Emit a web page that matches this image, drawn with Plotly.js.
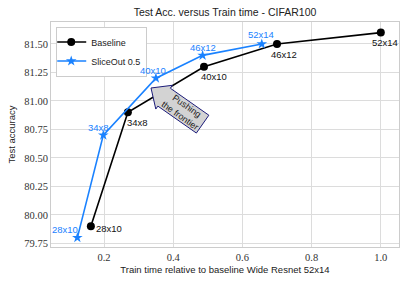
<!DOCTYPE html>
<html>
<head>
<meta charset="utf-8">
<script src="https://cdn.plot.ly/plotly-3.0.1.min.js"></script>
<style>html,body{margin:0;padding:0;background:#fff;}#chart{width:407px;height:285px;}</style>
</head>
<body>
<div id="chart"></div>
<script>
// ---- data ----
const baselineTime = [0.162, 0.269, 0.489, 0.70, 1.0];
const baselineAcc = [79.90, 80.90, 81.30, 81.50, 81.60];
const baselineLabels = ["28x10", "34x8", "40x10", "46x12", "52x14"];

const sliceTime = [0.123, 0.198, 0.350, 0.485, 0.656];
const sliceAcc = [79.80, 80.70, 81.20, 81.40, 81.50];
const sliceLabels = ["28x10", "34x8", "40x10", "46x12", "52x14"];

const xTickVals = [0.2, 0.4, 0.6, 0.8, 1.0];
const xTickText = ["0.2", "0.4", "0.6", "0.8", "1.0"];
const yTickVals = [79.75, 80.00, 80.25, 80.50, 80.75, 81.00, 81.25, 81.50];
const yTickText = ["79.75", "80.00", "80.25", "80.50", "80.75", "81.00", "81.25", "81.50"];

// ---- style ----
const BLUE = "#1a82ff";
const BLACK = "#000000";
const SANS = "Liberation Sans, Arial, sans-serif";
const SERIF = "Liberation Serif, serif";
const W = 407, H = 285;
const M = {l: 51, r: 8, t: 22, b: 38};
// label offsets in pixels [dx, dy(up)]
const baseOff = [[18, -2], [10, -10], [10, -10], [7, -11], [4, -10]];
const sliceOff = [[-12, 8], [-5, 8], [-3, 8], [0, 8], [-1, 9]];

const traces = [
  {x: baselineTime, y: baselineAcc, name: "Baseline", type: "scatter", mode: "lines+markers",
   line: {color: BLACK, width: 1.6}, marker: {symbol: "circle", size: 8, color: BLACK}},
  {x: sliceTime, y: sliceAcc, name: "SliceOut 0.5", type: "scatter", mode: "lines+markers",
   line: {color: BLUE, width: 1.6}, marker: {symbol: "star", size: 8, color: BLUE}}
];

const annotations = [];
baselineTime.forEach((t, i) => annotations.push({x: t, y: baselineAcc[i], text: baselineLabels[i],
  showarrow: false, xanchor: "center", yanchor: "middle", xshift: baseOff[i][0], yshift: baseOff[i][1],
  font: {family: SANS, size: 9.5, color: "#111"}}));
sliceTime.forEach((t, i) => annotations.push({x: t, y: sliceAcc[i], text: sliceLabels[i],
  showarrow: false, xanchor: "center", yanchor: "middle", xshift: sliceOff[i][0], yshift: sliceOff[i][1],
  font: {family: SANS, size: 9.5, color: BLUE}}));

// decorative "pushing the frontier" arrow box, defined in pixels -> paper
const pw = W - M.l - M.r, ph = H - M.t - M.b;
const px2paper = (px, py) => [(px - M.l) / pw, (H - M.b - py) / ph];
const th = 35 * Math.PI / 180;
const tip = [151, 88];
const loc = (u, v) => px2paper(tip[0] + u * Math.cos(th) - v * Math.sin(th), tip[1] + u * Math.sin(th) + v * Math.cos(th));
const arrowPts = [[0, 0], [16, -14.5], [16, -10.9], [63, -10.9], [63, 10.9], [16, 10.9], [16, 14.5]].map(p => loc(p[0], p[1]));
const path = "M" + arrowPts.map(p => p[0].toFixed(4) + "," + p[1].toFixed(4)).join(" L") + " Z";
const mid = loc(39.5, 0);
annotations.push({xref: "paper", yref: "paper", x: mid[0], y: mid[1], text: "Pushing<br>the frontier",
  showarrow: false, textangle: 35, xanchor: "center", yanchor: "middle",
  font: {family: SANS, size: 9, color: "#222"}});

const layout = {
  width: W, height: H, margin: M,
  paper_bgcolor: "#fff", plot_bgcolor: "#fff",
  title: {text: "Test Acc. versus Train time - CIFAR100", x: (M.l + pw / 2) / W, xanchor: "center",
          y: 1 - 12.7 / H, yanchor: "middle", yref: "container", font: {family: SANS, size: 10.5, color: "#222"}},
  xaxis: {range: [0.0468, 1.0526], tickvals: xTickVals, ticktext: xTickText,
          showline: true, mirror: true, linecolor: "#cccccc", linewidth: 1,
          showgrid: true, gridcolor: "#dcdcdc", gridwidth: 1, zeroline: false, ticks: "",
          tickfont: {family: SERIF, size: 10.5, color: "#333"},
          title: {text: "Train time relative to baseline Wide Resnet 52x14", standoff: 4,
                  font: {family: SANS, size: 9.5, color: "#222"}}},
  yaxis: {range: [79.718, 81.693], tickvals: yTickVals, ticktext: yTickText,
          showline: true, mirror: true, linecolor: "#cccccc", linewidth: 1,
          showgrid: true, gridcolor: "#dcdcdc", gridwidth: 1, zeroline: false, ticks: "",
          tickfont: {family: SERIF, size: 10.5, color: "#333"},
          title: {text: "Test accuracy", standoff: 6, font: {family: SANS, size: 9.5, color: "#222"}}},
  legend: {x: 0.015, y: 0.98, xanchor: "left", yanchor: "top", bgcolor: "#fff",
           bordercolor: "#cccccc", borderwidth: 1, font: {family: SANS, size: 9, color: "#222"},
           itemwidth: 30, tracegroupgap: 0, indentation: -6},
  showlegend: true,
  shapes: [{type: "path", xref: "paper", yref: "paper", path: path,
            fillcolor: "#d3d3d3", line: {color: "#1c1c7a", width: 1}, layer: "above"}],
  annotations: annotations
};

Plotly.newPlot("chart", traces, layout, {displayModeBar: false, staticPlot: true});
</script>
</body>
</html>
